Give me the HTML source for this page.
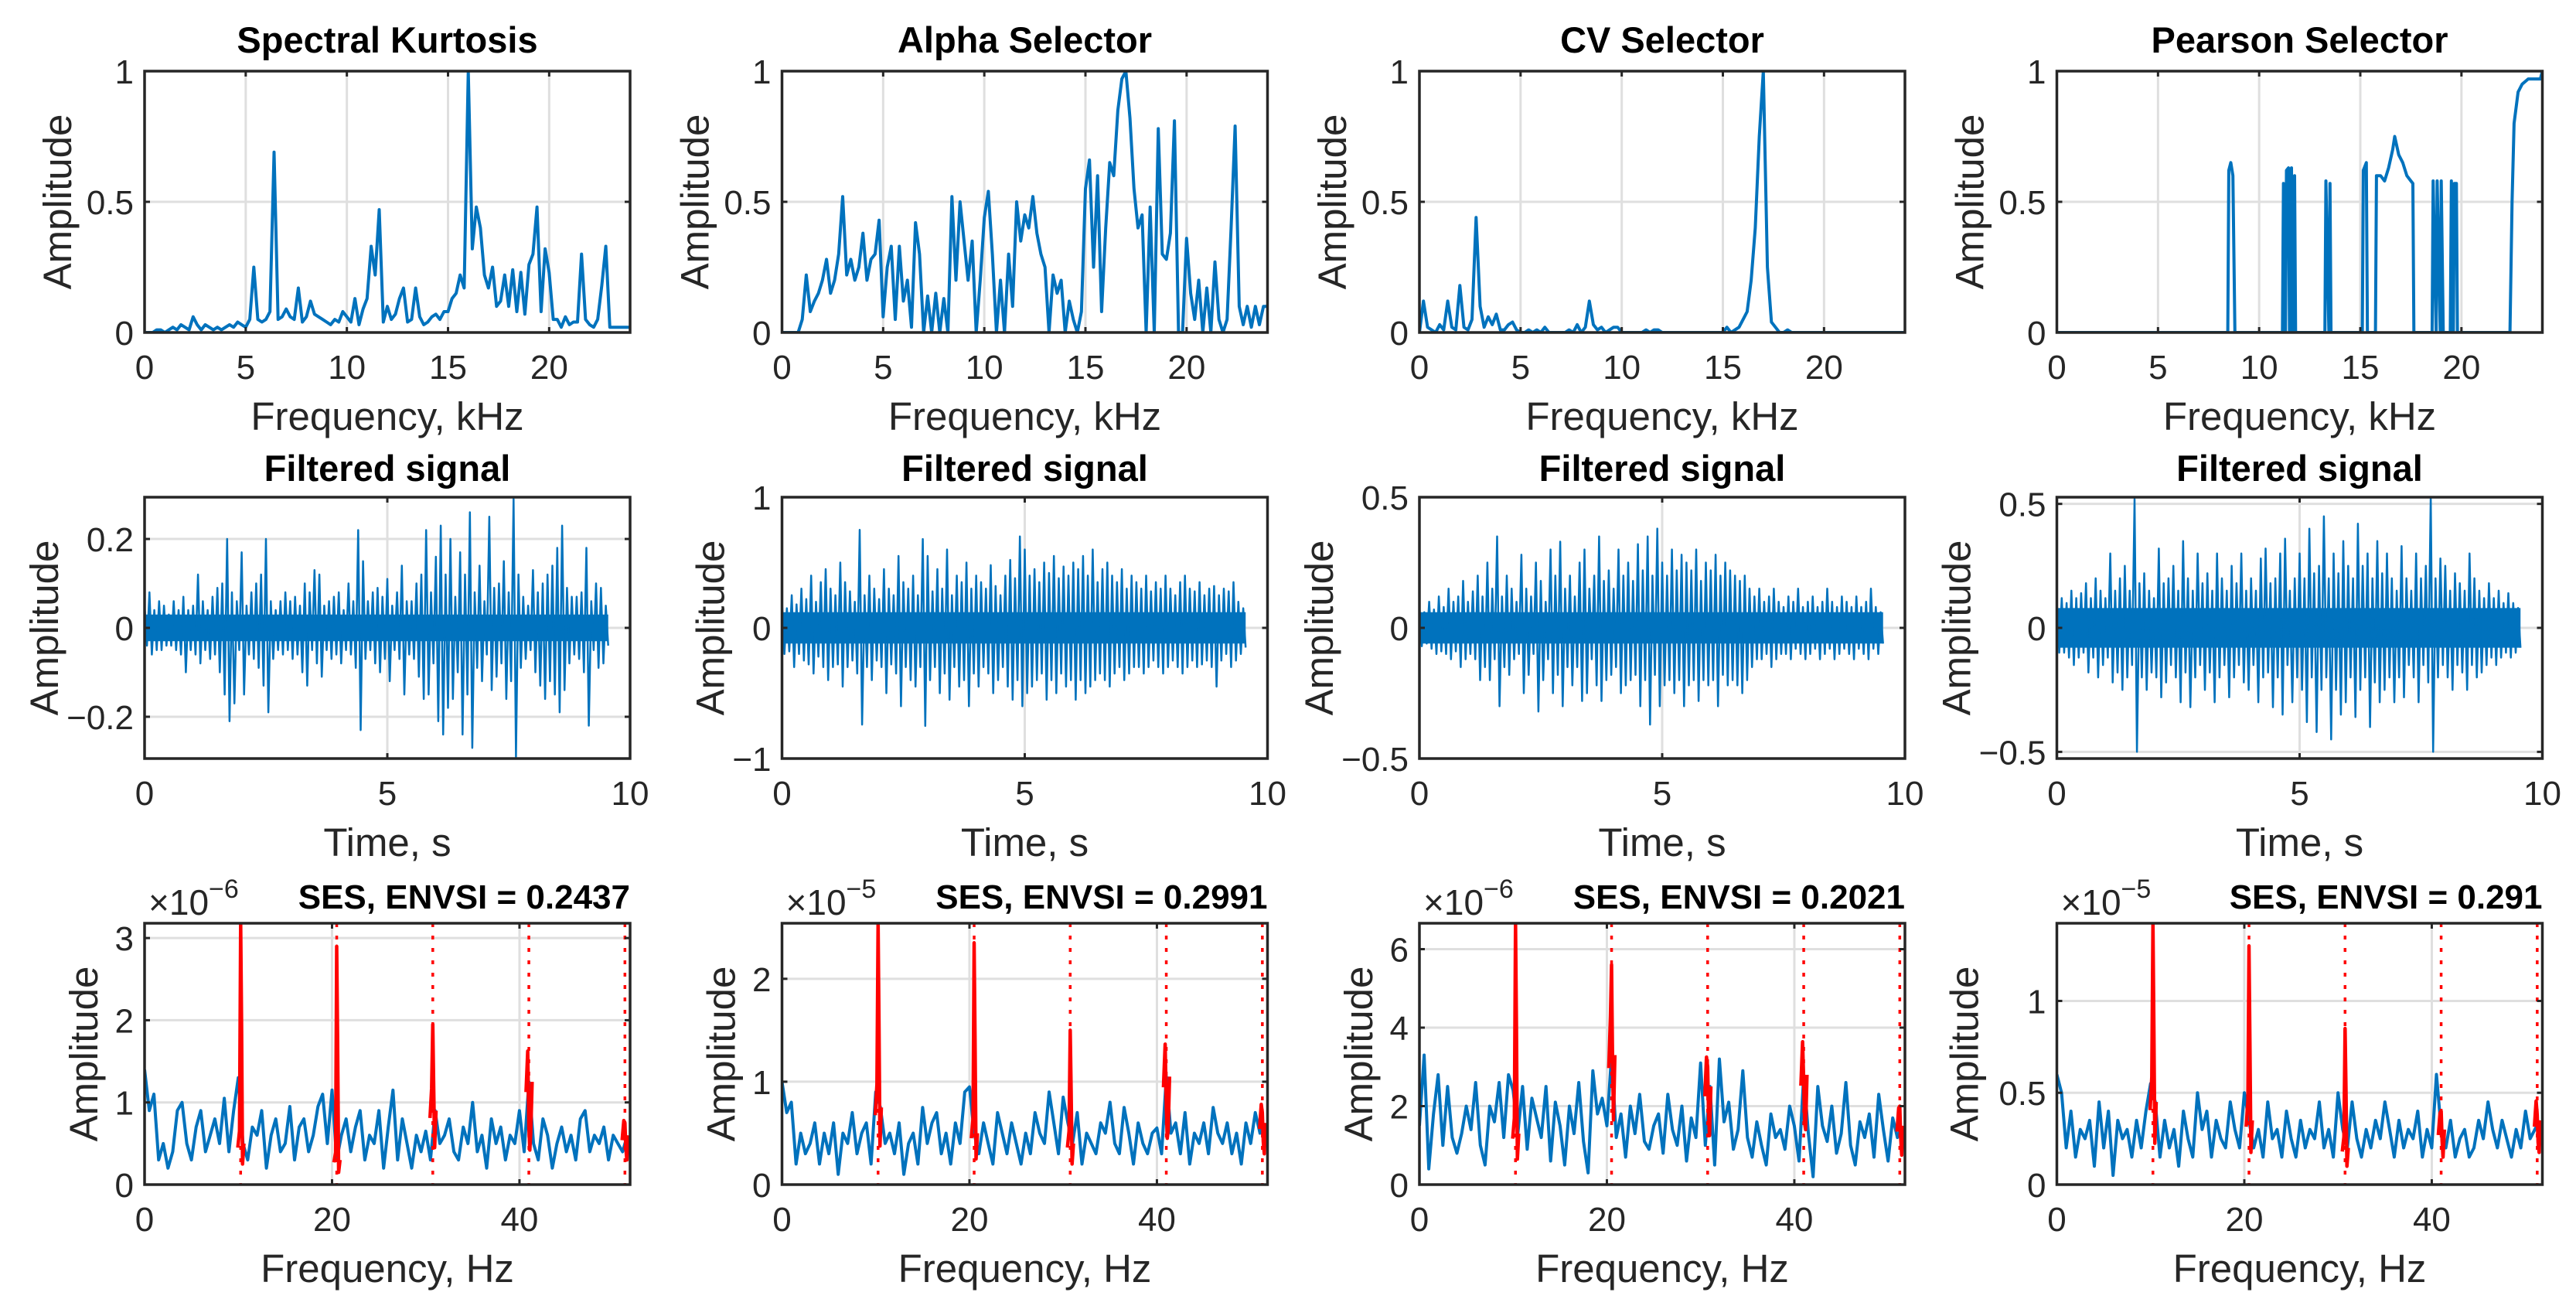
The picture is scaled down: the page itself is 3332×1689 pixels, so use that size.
<!DOCTYPE html>
<html><head><meta charset="utf-8">
<style>
html,body{margin:0;padding:0;background:#fff;}
svg{display:block;}
text{font-family:"Liberation Sans",Arial,sans-serif;fill:#262626;}
.tt{font-weight:bold;fill:#000;font-size:47px;}
.tt3{font-weight:bold;fill:#000;font-size:44px;}
.tk{font-size:44px;}
.lb{font-size:51px;}
</style></head>
<body>
<svg id="fig" width="3332" height="1689" viewBox="0 0 3332 1689" xmlns="http://www.w3.org/2000/svg"></svg>
<script>
// ---------- Row 1 spectra (0.2 kHz step) ----------
const skVals=[0,0,0,0.01,0.01, 0,0.01,0.02,0.01,0.03, 0.02,0.01,0.06,0.03,0.01, 0.03,0.02,0.01,0.02,0.01,
0.02,0.03,0.02,0.04,0.03, 0.02,0.05,0.25,0.05,0.04, 0.05,0.08,0.69,0.05,0.06, 0.09,0.06,0.05,0.17,0.04,
0.06,0.12,0.07,0.06,0.05, 0.04,0.03,0.05,0.04,0.08, 0.06,0.04,0.13,0.03,0.09, 0.13,0.33,0.22,0.47,0.04,
0.10,0.05,0.07,0.13,0.17, 0.04,0.05,0.17,0.06,0.03, 0.04,0.06,0.07,0.05,0.08, 0.08,0.13,0.15,0.22,0.17,
1.0,0.32,0.48,0.40,0.22, 0.17,0.25,0.10,0.12,0.22, 0.10,0.24,0.08,0.23,0.07, 0.26,0.30,0.48,0.08,0.32,
0.23,0.05,0.05,0.02,0.06, 0.03,0.04,0.04,0.30,0.05, 0.03,0.02,0.05,0.18,0.33, 0.02,0.02,0.02,0.02,0.02, 0.02];
const alphaVals=[0,0,0,0,0, 0.05,0.22,0.08,0.12,0.15, 0.2,0.28,0.15,0.2,0.3, 0.52,0.22,0.28,0.2,0.25,
0.38,0.2,0.28,0.3,0.43, 0.06,0.25,0.33,0.05,0.33, 0.12,0.2,0.02,0.42,0.3, 0.0,0.14,0.0,0.15,0.0,
0.13,0.0,0.52,0.2,0.5, 0.35,0.2,0.35,0.0,0.2, 0.44,0.54,0.3,0.0,0.2, 0.0,0.3,0.1,0.5,0.35,
0.45,0.4,0.52,0.38,0.3, 0.25,0.0,0.22,0.15,0.2, 0.0,0.12,0.05,0.0,0.08, 0.55,0.66,0.25,0.6,0.08,
0.4,0.65,0.6,0.85,0.97, 1.0,0.82,0.55,0.4,0.45, 0.0,0.48,0.0,0.78,0.3, 0.28,0.38,0.81,0.0,0.0,
0.36,0.15,0.05,0.2,0.0, 0.17,0.0,0.27,0.05,0.0, 0.05,0.4,0.79,0.1,0.03, 0.1,0.02,0.1,0.03,0.1, 0.1];
const cvVals=[0.0,0.12,0.02,0.01,0.0, 0.03,0.01,0.12,0.02,0.01, 0.18,0.02,0.01,0.05,0.44, 0.10,0.02,0.06,0.03,0.07,
0.01,0.01,0.03,0.04,0.01, 0,0,0.01,0,0.01, 0.0,0.02,0.0,0,0, 0,0,0.01,0.0,0.03,
0.0,0.02,0.12,0.03,0.01, 0.02,0.0,0.01,0.02,0.02, 0,0,0,0,0, 0,0.01,0,0.01,0.01,
0,0,0,0,0, 0,0,0,0,0, 0,0,0,0,0, 0.0,0.02,0.0,0.01,0.02,
0.05,0.08,0.2,0.4,0.75, 1.0,0.25,0.04,0.02,0, 0,0.01,0,0,0, 0,0,0,0,0,
0,0,0,0,0, 0,0,0,0,0, 0,0,0,0,0, 0,0,0,0,0, 0];
const pearsonF=[0,8.45,8.5,8.6,8.7,8.8,8.85, 11.15,11.2,11.3,11.35,11.45,11.5,11.6,11.65,11.75,11.8,
13.25,13.3,13.45,13.5,13.55,13.6, 15.1,15.15,15.3,15.35,15.4,
15.75,15.8,16.0,16.2,16.4,16.6,16.7,16.9,17.1,17.3,17.5,17.6,17.65,
18.55,18.6,18.75,18.8,18.95,19.0,19.1,19.15, 19.45,19.5,19.6,19.65,19.75,19.8,
22.4,22.5,22.6,22.8,23.0,23.3,23.6,23.9,24];
const pearsonA=[0,0,0.62,0.65,0.6,0,0, 0,0.57,0,0.62,0.63,0,0.63,0,0.6,0,
0,0.58,0,0.57,0,0, 0,0.62,0.65,0,0,
0,0.6,0.6,0.58,0.63,0.7,0.75,0.68,0.65,0.6,0.58,0.57,0,
0,0.58,0,0.58,0,0.58,0,0, 0,0.58,0,0.57,0.57,0,
0,0.5,0.8,0.92,0.95,0.97,0.97,0.97,1.0];

// ---------- Row 2 filtered signals (0.1 s step) ----------
const sigCore=[0.03,0.12,0.06,0.08];
const sigPos=[
[0.05,0.08,0.04,0.06,0.05,0.03,0.06,0.04,0.07,0.04,0.05,0.12,0.06,0.04,0.07,0.09,0.1,0.2,0.08,0.06,0.17,0.05,0.08,0.1,0.12,0.2,0.06,0.04,0.06,0.08,0.06,0.07,0.05,0.1,0.08,0.13,0.12,0.05,0.06,0.07,0.08,0.04,0.1,0.06,0.22,0.15,0.06,0.08,0.09,0.07,0.11,0.05,0.08,0.14,0.06,0.06,0.1,0.12,0.22,0.08,0.16,0.23,0.12,0.2,0.07,0.17,0.12,0.26,0.08,0.14,0.06,0.25,0.09,0.1,0.15,0.08,0.29,0.12,0.07,0.05,0.13,0.08,0.1,0.12,0.14,0.18,0.23,0.09,0.07,0.07,0.08,0.18,0.06,0.1,0.09,0.05],
[0.2,0.15,0.25,0.18,0.3,0.22,0.4,0.2,0.35,0.45,0.3,0.25,0.5,0.35,0.28,0.2,0.75,0.25,0.4,0.3,0.22,0.45,0.3,0.25,0.55,0.35,0.3,0.4,0.25,0.68,0.55,0.28,0.45,0.3,0.6,0.25,0.4,0.35,0.5,0.3,0.4,0.35,0.3,0.48,0.32,0.25,0.4,0.52,0.38,0.7,0.6,0.4,0.45,0.35,0.5,0.42,0.55,0.38,0.47,0.4,0.5,0.45,0.55,0.4,0.6,0.35,0.45,0.5,0.4,0.35,0.45,0.3,0.4,0.35,0.3,0.4,0.28,0.35,0.3,0.4,0.3,0.25,0.35,0.4,0.3,0.28,0.35,0.25,0.3,0.32,0.25,0.3,0.28,0.35,0.2,0.15],
[0.08,0.06,0.1,0.07,0.12,0.08,0.15,0.1,0.12,0.18,0.1,0.14,0.2,0.12,0.25,0.15,0.35,0.12,0.2,0.15,0.1,0.28,0.15,0.12,0.25,0.18,0.1,0.3,0.2,0.33,0.15,0.2,0.12,0.25,0.3,0.15,0.2,0.35,0.18,0.22,0.15,0.3,0.2,0.25,0.18,0.32,0.22,0.35,0.2,0.38,0.25,0.2,0.3,0.22,0.28,0.25,0.22,0.3,0.18,0.25,0.22,0.28,0.2,0.25,0.22,0.2,0.18,0.2,0.15,0.12,0.15,0.1,0.12,0.15,0.1,0.08,0.12,0.1,0.15,0.08,0.1,0.12,0.08,0.1,0.15,0.1,0.08,0.12,0.1,0.08,0.12,0.08,0.1,0.15,0.08,0.06],
[0.1,0.12,0.1,0.15,0.12,0.14,0.18,0.12,0.2,0.15,0.12,0.3,0.15,0.2,0.25,0.15,0.52,0.18,0.22,0.15,0.12,0.32,0.18,0.2,0.25,0.15,0.35,0.2,0.15,0.3,0.18,0.22,0.15,0.3,0.2,0.15,0.25,0.18,0.3,0.15,0.2,0.15,0.28,0.32,0.18,0.2,0.3,0.36,0.15,0.2,0.3,0.2,0.4,0.22,0.25,0.45,0.2,0.3,0.22,0.35,0.25,0.2,0.42,0.25,0.3,0.2,0.35,0.22,0.3,0.2,0.15,0.33,0.2,0.15,0.3,0.2,0.25,0.53,0.2,0.28,0.25,0.15,0.22,0.18,0.15,0.3,0.2,0.15,0.12,0.18,0.12,0.15,0.1,0.14,0.1,0.08]];
const sigNeg=[
[0.04,0.06,0.05,0.05,0.04,0.04,0.05,0.06,0.1,0.05,0.06,0.08,0.05,0.07,0.06,0.1,0.15,0.21,0.17,0.05,0.15,0.06,0.07,0.09,0.13,0.19,0.07,0.05,0.06,0.05,0.07,0.06,0.1,0.13,0.05,0.08,0.11,0.05,0.07,0.06,0.08,0.05,0.06,0.09,0.23,0.07,0.05,0.08,0.1,0.07,0.12,0.05,0.07,0.15,0.06,0.07,0.11,0.16,0.15,0.08,0.21,0.24,0.18,0.16,0.1,0.24,0.15,0.27,0.09,0.12,0.06,0.14,0.11,0.08,0.16,0.12,0.29,0.09,0.07,0.05,0.1,0.13,0.16,0.12,0.15,0.19,0.14,0.08,0.06,0.07,0.1,0.22,0.05,0.09,0.08,0.04],
[0.2,0.18,0.3,0.2,0.25,0.28,0.35,0.22,0.3,0.4,0.3,0.28,0.45,0.3,0.25,0.35,0.74,0.3,0.4,0.25,0.3,0.5,0.28,0.35,0.6,0.3,0.4,0.45,0.3,0.75,0.4,0.3,0.5,0.35,0.55,0.3,0.45,0.4,0.6,0.35,0.45,0.3,0.35,0.5,0.4,0.3,0.45,0.55,0.4,0.6,0.5,0.45,0.4,0.35,0.55,0.4,0.5,0.35,0.45,0.4,0.55,0.4,0.5,0.45,0.4,0.35,0.4,0.45,0.35,0.3,0.4,0.35,0.3,0.3,0.35,0.3,0.25,0.3,0.35,0.3,0.25,0.3,0.35,0.3,0.25,0.3,0.28,0.25,0.3,0.45,0.25,0.2,0.3,0.25,0.2,0.15],
[0.07,0.06,0.08,0.1,0.09,0.1,0.12,0.09,0.15,0.12,0.1,0.12,0.2,0.15,0.2,0.12,0.3,0.15,0.18,0.12,0.1,0.25,0.18,0.1,0.32,0.2,0.12,0.25,0.18,0.3,0.15,0.22,0.15,0.28,0.25,0.12,0.22,0.28,0.2,0.18,0.15,0.25,0.22,0.2,0.18,0.3,0.2,0.37,0.18,0.3,0.22,0.2,0.25,0.2,0.3,0.22,0.2,0.28,0.2,0.22,0.2,0.3,0.18,0.22,0.2,0.22,0.25,0.2,0.15,0.12,0.12,0.1,0.15,0.12,0.1,0.1,0.12,0.08,0.1,0.12,0.1,0.08,0.12,0.1,0.08,0.12,0.1,0.08,0.1,0.12,0.08,0.1,0.12,0.08,0.1,0.06],
[0.1,0.1,0.12,0.15,0.12,0.1,0.18,0.12,0.2,0.15,0.12,0.22,0.18,0.25,0.2,0.15,0.5,0.2,0.25,0.18,0.2,0.28,0.22,0.15,0.2,0.3,0.18,0.32,0.2,0.15,0.25,0.18,0.3,0.2,0.15,0.28,0.2,0.15,0.22,0.25,0.15,0.3,0.2,0.18,0.32,0.2,0.35,0.15,0.3,0.2,0.25,0.38,0.2,0.42,0.25,0.2,0.45,0.25,0.35,0.3,0.2,0.36,0.25,0.2,0.4,0.22,0.3,0.25,0.2,0.3,0.2,0.28,0.15,0.2,0.3,0.15,0.22,0.5,0.2,0.15,0.2,0.25,0.15,0.18,0.25,0.15,0.2,0.18,0.15,0.12,0.15,0.12,0.1,0.12,0.1,0.08]];

// ---------- Row 3 SES (0.5 Hz step) ----------
const sesNoise=[
[1.4,0.9,1.1,0.3,0.5,0.2,0.4,0.9,1.0,0.5,0.3,0.7,0.9,0.4,0.6,0.8,0.5,1.05,0.4,0.9,1.3,0.5,0.3,0.7,0.6,0.9,0.2,0.6,0.8,0.4,0.5,0.95,0.3,0.7,0.8,0.4,0.6,0.95,1.1,0.5,1.15,0.3,0.6,0.8,0.4,0.7,0.9,0.3,0.6,0.5,0.9,0.2,0.7,1.15,0.3,0.8,0.5,0.2,0.6,0.4,0.65,0.3,0.9,0.5,0.6,0.8,0.4,0.3,0.7,0.5,1.0,0.4,0.6,0.2,0.8,0.5,0.7,0.3,0.6,0.5,0.9,0.4,1.25,0.5,0.3,0.8,0.6,0.2,0.5,0.7,0.4,0.6,0.3,0.8,0.9,0.4,0.6,0.5,0.7,0.3,0.6,0.5,0.4,0.6],
[1.0,0.7,0.8,0.2,0.5,0.3,0.4,0.6,0.2,0.5,0.3,0.6,0.1,0.5,0.4,0.7,0.3,0.5,0.6,0.2,0.9,0.75,0.4,0.5,0.3,0.6,0.1,0.4,0.5,0.2,0.75,0.4,0.6,0.7,0.3,0.5,0.2,0.6,0.4,0.9,0.95,0.5,0.3,0.6,0.4,0.2,0.7,0.5,0.3,0.6,0.4,0.2,0.5,0.3,0.7,0.5,0.4,0.9,0.6,0.3,0.85,0.6,0.4,0.7,0.2,0.5,0.4,0.3,0.6,0.5,0.8,0.4,0.3,0.75,0.5,0.2,0.6,0.4,0.3,0.5,0.55,0.3,1.05,0.5,0.6,0.3,0.7,0.2,0.5,0.4,0.6,0.3,0.75,0.5,0.4,0.6,0.3,0.5,0.2,0.6,0.4,0.7,0.5,0.6],
[1.5,3.3,0.4,1.8,2.8,1.0,2.5,1.2,0.8,1.3,2.0,1.4,2.6,1.0,0.5,2.0,1.6,2.6,1.2,2.8,2.4,1.3,2.5,0.9,2.2,1.7,1.2,2.5,0.6,2.1,1.5,0.5,2.0,1.3,2.6,1.1,0.3,2.9,1.8,2.2,1.5,3.3,1.2,1.8,0.7,2.0,1.3,2.3,1.1,0.9,1.5,1.8,0.8,2.3,1.4,1.0,2.0,0.6,1.7,1.2,3.1,1.0,2.5,0.5,3.2,1.6,2.1,0.9,1.4,2.9,1.2,0.7,1.6,1.0,0.5,1.8,1.2,1.4,0.9,2.0,1.5,0.6,2.8,1.3,0.2,2.5,1.5,1.1,2.0,0.8,1.3,2.6,1.0,0.5,1.6,1.2,1.8,0.7,2.3,1.4,0.6,1.7,1.2,1.5],
[0.6,0.5,0.2,0.4,0.15,0.3,0.25,0.35,0.1,0.45,0.2,0.4,0.05,0.35,0.25,0.3,0.15,0.35,0.2,0.4,0.55,0.45,0.15,0.35,0.2,0.3,0.1,0.4,0.25,0.15,0.5,0.3,0.4,0.15,0.35,0.25,0.2,0.45,0.3,0.2,0.5,0.35,0.2,0.3,0.15,0.45,0.25,0.3,0.15,0.4,0.25,0.15,0.35,0.2,0.3,0.25,0.45,0.2,0.3,0.15,0.5,0.3,0.2,0.45,0.25,0.15,0.3,0.2,0.35,0.25,0.45,0.3,0.15,0.35,0.2,0.3,0.25,0.4,0.15,0.3,0.2,0.6,0.3,0.2,0.35,0.15,0.25,0.3,0.15,0.2,0.35,0.25,0.45,0.3,0.2,0.35,0.25,0.15,0.3,0.2,0.4,0.25,0.3,0.35]];
const sesHarmAmp=[[3.18,2.9,1.95,0.7,0.75],[2.54,2.35,1.5,0.75,0.7],[6.66,5.6,3.0,2.6,2.0],[1.42,1.3,0.85,0.4,0.38]];
const sesFund=10.25;
const sesTitles=["SES, ENVSI = 0.2437","SES, ENVSI = 0.2991","SES, ENVSI = 0.2021","SES, ENVSI = 0.291"];
const sesExp=["−6","−5","−6","−5"];
const sesYmax=[3.18,2.54,6.66,1.423];
const sesYticks=[[0,1,2,3],[0,1,2],[0,2,4,6],[0,0.5,1]];
const sigYmax=[0.294,1,0.5,0.527];
const sigYticks=[[-0.2,0,0.2],[-1,0,1],[-0.5,0,0.5],[-0.5,0,0.5]];
const topTitles=["Spectral Kurtosis","Alpha Selector","CV Selector","Pearson Selector"];

// ---------- drawing ----------
const NS="http://www.w3.org/2000/svg";
const svg=document.getElementById('fig');
const LEFTS=[187,1011.5,1836,2660.5], AW=628, TOPS=[92,643,1194], AH=338;
function el(tag,attrs,parent){const e=document.createElementNS(NS,tag);for(const k in attrs)e.setAttribute(k,attrs[k]);(parent||svg).appendChild(e);return e;}
function txt(s,attrs,parent){const t=el('text',attrs,parent);t.textContent=s;return t;}
function fmt(v){return (v<0?'−':'')+String(Math.abs(v));}
let clipId=0;
function makeAxes(col,row,xmin,xmax,ymin,ymax,xticks,yticks,name){
  const L=LEFTS[col],T=TOPS[row];
  const g=el('g',{});
  
  
  const sx=v=>L+(v-xmin)/(xmax-xmin)*AW, sy=v=>T+AH-(v-ymin)/(ymax-ymin)*AH;
  el('rect',{x:L,y:T,width:AW,height:AH,fill:'#fff'},g);
  xticks.forEach(v=>{if(v>xmin&&v<xmax)el('line',{x1:sx(v),x2:sx(v),y1:T,y2:T+AH,stroke:'#dfdfdf','stroke-width':3},g);});
  yticks.forEach(v=>{if(v>ymin&&v<ymax)el('line',{x1:L,x2:L+AW,y1:sy(v),y2:sy(v),stroke:'#dfdfdf','stroke-width':3},g);});
  const id='c'+(clipId++);
  const cp=el('clipPath',{id:id},g);el('rect',{x:L,y:T,width:AW,height:AH},cp);
  const plot=el('g',{'clip-path':'url(#'+id+')'},g);
  const deco=el('g',{},g);
  return {g,plot,deco,sx,sy,L,T,finish(){
    xticks.forEach(v=>{const x=sx(v);
      el('line',{x1:x,x2:x,y1:T+AH,y2:T+AH-7,stroke:'#262626','stroke-width':3},deco);
      el('line',{x1:x,x2:x,y1:T,y2:T+7,stroke:'#262626','stroke-width':3},deco);
      const t=txt(String(v),{x:x,y:T+AH+60,'text-anchor':'middle',class:'tk'},deco);
      });
    yticks.forEach(v=>{const y=sy(v);
      el('line',{x1:L,x2:L+7,y1:y,y2:y,stroke:'#262626','stroke-width':3},deco);
      el('line',{x1:L+AW,x2:L+AW-7,y1:y,y2:y,stroke:'#262626','stroke-width':3},deco);
      const t=txt(fmt(v),{x:L-14,y:y+16,'text-anchor':'end',class:'tk'},deco);
      });
    el('rect',{x:L,y:T,width:AW,height:AH,fill:'none',stroke:'#262626','stroke-width':3.5},deco);
  }};
}
function polyline(ax,pts,color,w,parent){
  return el('polyline',{points:pts.map(p=>ax.sx(p[0]).toFixed(1)+','+ax.sy(p[1]).toFixed(1)).join(' '),fill:'none',stroke:color,'stroke-width':w,'stroke-linejoin':'round'},parent||ax.plot);
}
function ylabel(ax,off,text){
  const cy=ax.T+AH/2, x=ax.L-off;
  const t=txt(text,{x:x,y:cy,transform:'rotate(-90 '+x+' '+cy+')','text-anchor':'middle',class:'lb'},ax.deco);
  
}
function xlabel(ax,text){
  const t=txt(text,{x:ax.L+AW/2,y:ax.T+AH+126,'text-anchor':'middle',class:'lb'},ax.deco);
  
}
function title(ax,text,y,anchorEnd){
  const t=txt(text,{x:anchorEnd?ax.L+AW:ax.L+AW/2,y:y,'text-anchor':anchorEnd?'end':'middle',class:anchorEnd?'tt3':'tt'},ax.deco);
  
}
const BLUE='#0072BD';

// Row 1
const row1Series=[skVals,alphaVals,cvVals];
for(let c=0;c<4;c++){
  const ax=makeAxes(c,0,0,24,0,1,[0,5,10,15,20],[0,0.5,1],'spectrum-panel-'+(c+1));
  let pts;
  if(c<3){pts=row1Series[c].map((v,i)=>[i*0.2,v]);}
  else{pts=pearsonF.map((f,i)=>[f,pearsonA[i]]);}
  const pl=polyline(ax,pts,BLUE,4);
  
  
  ax.finish();
  title(ax,topTitles[c],68,false);
  ylabel(ax,95,'Amplitude');
  xlabel(ax,'Frequency, kHz');
}
// Row 2
const sigYoff=[112,75,112,112];
for(let c=0;c<4;c++){
  const ym=sigYmax[c];
  const ax=makeAxes(c,1,0,10,-ym,ym,[0,5,10],sigYticks[c],'filtered-signal-panel-'+(c+1));
  const P=sigPos[c],N=sigNeg[c],tEnd=(P.length-1)*0.1+0.05;
  const band=el('rect',{x:ax.sx(0),y:ax.sy(sigCore[c]),width:ax.sx(tEnd)-ax.sx(0),height:ax.sy(-sigCore[c])-ax.sy(sigCore[c]),fill:BLUE},ax.plot);
  
  
  const pts=[];
  P.forEach((v,i)=>{pts.push([i*0.1,v]);pts.push([i*0.1+0.05,-N[i]]);});
  const pl=polyline(ax,pts,BLUE,2.5);
  
  
  ax.finish();
  title(ax,'Filtered signal',622,false);
  ylabel(ax,sigYoff[c],'Amplitude');
  xlabel(ax,'Time, s');
}
// Row 3
const sesYoff=[61,61,61,102];
for(let c=0;c<4;c++){
  const ax=makeAxes(c,2,0,51.8,0,sesYmax[c],[0,20,40],sesYticks[c],'ses-panel-'+(c+1));
  const noise=sesNoise[c];
  const pl=polyline(ax,noise.map((v,i)=>[i*0.5,v]),BLUE,4);
  
  
  sesHarmAmp[c].forEach((a,k)=>{
    const f=sesFund*(k+1);
    const dl=el('line',{x1:ax.sx(f),x2:ax.sx(f),y1:ax.T,y2:ax.T+AH,stroke:'#ff0000','stroke-width':3.5,'stroke-dasharray':'5 11'},ax.plot);
    
    
    const base=noise[Math.min(noise.length-1,Math.round(f/0.5))];
    const pk=polyline(ax,[[f-0.3,base*0.9],[f-0.12,base*1.3],[f,a],[f+0.1,a*0.6],[f+0.2,base*0.5],[f+0.35,base]],'#ff0000',4.5);
    
    
  });
  ax.finish();
  title(ax,sesTitles[c],1175,true);
  const ex=txt('×10',{x:ax.L+5,y:1183,'font-size':'46px'},ax.deco);
  
  
  const sup=el('tspan',{dy:-22,'font-size':'34px'},ex);sup.textContent=sesExp[c];
  ylabel(ax,sesYoff[c],'Amplitude');
  xlabel(ax,'Frequency, Hz');
}
</script>
</body></html>
